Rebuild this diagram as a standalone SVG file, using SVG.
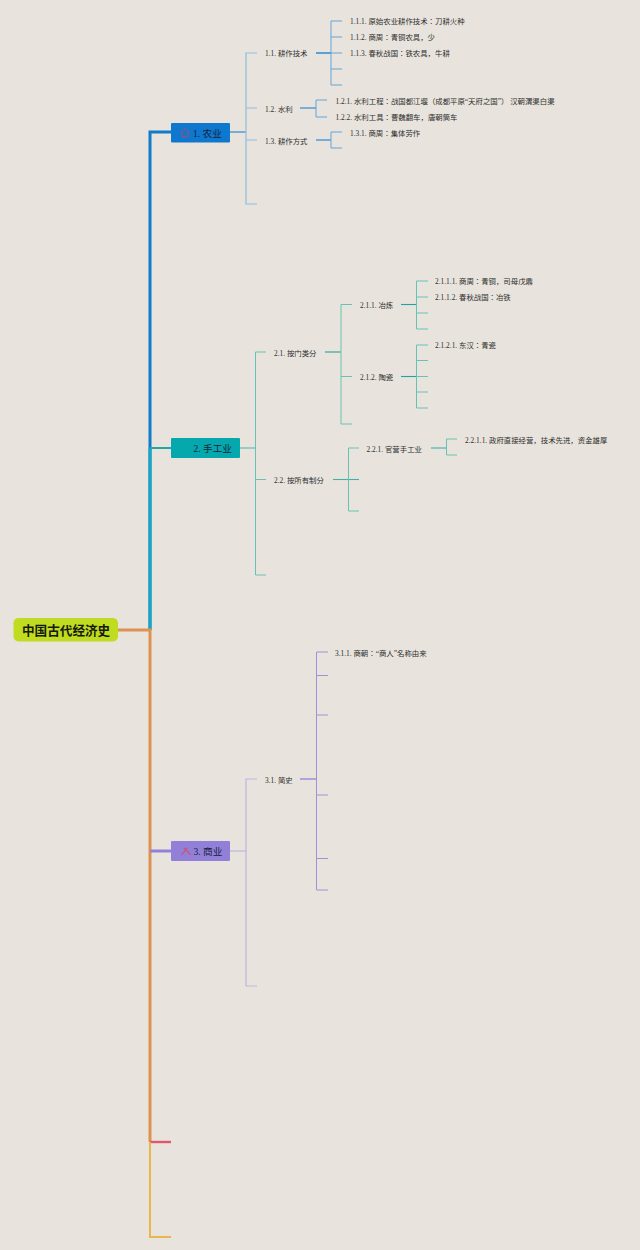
<svg xmlns="http://www.w3.org/2000/svg" width="640" height="1250" viewBox="0 0 640 1250">
<style>
text{font-family:"Liberation Serif","Noto Sans CJK JP",serif;fill:#2e2e2e}
.t{font-size:7.4px}
.m{font-size:7.4px}
.h{font-size:9.6px;fill:#14233a}
.r{font-family:"Noto Sans CJK SC","Noto Sans CJK JP",sans-serif;font-size:12.6px;font-weight:700;fill:#15190a}
path{fill:none}
.bl{stroke:#8dbddd;stroke-width:1.2}
.bd{stroke:#62a5d8;stroke-width:1}
.bc{stroke:#2f8acf;stroke-width:1.2}
.gl{stroke:#66c2b5;stroke-width:1}
.gd{stroke:#1fa69c;stroke-width:1.1}
.pl{stroke:#bdb5e0;stroke-width:1.2}
.pd{stroke:#9f92da;stroke-width:1}
.pc{stroke:#8a7ad6;stroke-width:1.2}
</style>
<rect width="640" height="1250" fill="#e8e4dd"/>
<g id="connectors">
<!-- trunk -->
<path d="M150 630V132H171" stroke="#0e7bcb" stroke-width="3"/>
<path d="M150 630V448" stroke="#17a6c2" stroke-width="3"/>
<path d="M150 448H171" stroke="#25a89f" stroke-width="2"/>
<path d="M118 630H150V1142" stroke="#de9150" stroke-width="3"/>
<path d="M150 851H171" stroke="#9280d8" stroke-width="3"/>
<path d="M150 1142H171" stroke="#e0566c" stroke-width="2.400"/>
<path d="M150 1142V1237H171" stroke="#e8b84c" stroke-width="2"/>
<!-- branch 1 -->
<path d="M230 132H246" stroke="#2f8acf" stroke-width="1.200"/>
<path class="bl" d="M257 53H246V204H257M246 108H257M246 140H257"/>
<path d="M316 53H331" stroke="#2f8acf" stroke-width="1.500"/>
<path class="bd" d="M342 21H331V85H342M331 37H342M331 53H342M331 69H342"/>
<path class="bc" d="M300 108H316"/>
<path class="bd" d="M327 100H316V117H327"/>
<path class="bc" d="M316 140H331"/>
<path class="bd" d="M342 132H331V148H342"/>
<!-- branch 2 -->
<path d="M240 448H255" stroke="#66c2b5" stroke-width="1.300"/>
<path class="gl" d="M266 352H255.500V575H266M255.500 479.500H266"/>
<path class="gd" d="M325 352H341"/>
<path class="gl" d="M352 304.500H341V424H352M341 376.500H352"/>
<path class="gd" d="M401 304.500H416.500"/>
<path class="gl" d="M428 281H416.500V329H428M416.500 297H428M416.500 313H428"/>
<path class="gd" d="M401 376.500H416.500"/>
<path class="gl" d="M428 345H416.500V408H428M416.500 360.500H428M416.500 376.500H428M416.500 392H428"/>
<path d="M333 479.500H359" stroke="#3fb3a6" stroke-width="1.100"/>
<path class="gl" d="M359 448H348.500V511H359"/>
<path d="M431 448H446.500" stroke="#66c2b5" stroke-width="1.500"/>
<path class="gl" d="M457 439H446.500V455H457"/>
<!-- branch 3 -->
<path d="M230 851H246" stroke="#bdb5e0" stroke-width="1.200"/>
<path class="pl" d="M257 779H246V986H257"/>
<path class="pc" d="M300 779H316.500"/>
<path class="pd" d="M328 652H316.500V890H328M316.500 675.500H328M316.500 715H328M316.500 795H328M316.500 858.500H328"/>
</g>
<g id="root">
<rect x="13.500" y="618" width="104.500" height="23.500" rx="5" fill="#bfdc20"/>
<text class="r" x="22" y="634.500">中国古代经济史</text>
</g>
<g id="n1">
<rect x="171" y="123" width="59" height="19.500" rx="1" fill="#0e78cf"/>
<path d="M180.500 132.500L185 128.500L189.500 132.500M182 132V137H188V132" stroke="#b0496e" stroke-width="1"/>
<text class="h" x="193" y="136.500">1. 农业</text>
</g>
<g id="n1-1"><text class="m" x="265" y="56">1.1. 耕作技术</text></g>
<g id="n1-1-1"><text class="t" x="350" y="24">1.1.1. 原始农业耕作技术：刀耕火种</text></g>
<g id="n1-1-2"><text class="t" x="350" y="40">1.1.2. 商周：青铜农具，少</text></g>
<g id="n1-1-3"><text class="t" x="350" y="56">1.1.3. 春秋战国：铁农具，牛耕</text></g>
<g id="n1-2"><text class="m" x="265" y="111.500">1.2. 水利</text></g>
<g id="n1-2-1"><text class="t" x="335.500" y="104">1.2.1. 水利工程：战国都江堰（成都平原“天府之国”） 汉朝渭渠白渠</text></g>
<g id="n1-2-2"><text class="t" x="335.500" y="120">1.2.2. 水利工具：曹魏翻车，唐朝筒车</text></g>
<g id="n1-3"><text class="m" x="265" y="143.500">1.3. 耕作方式</text></g>
<g id="n1-3-1"><text class="t" x="350" y="135.500">1.3.1. 商周：集体劳作</text></g>
<g id="n2">
<rect x="171" y="438" width="69" height="20" rx="1" fill="#04a8ad"/>
<text class="h" x="193.500" y="452">2. 手工业</text>
</g>
<g id="n2-1"><text class="m" x="274" y="356">2.1. 按门类分</text></g>
<g id="n2-1-1"><text class="t" x="360" y="308">2.1.1. 冶炼</text></g>
<g id="n2-1-1-1"><text class="t" x="435" y="284">2.1.1.1. 商周：青铜，司母戊鼎</text></g>
<g id="n2-1-1-2"><text class="t" x="435" y="300">2.1.1.2. 春秋战国：冶铁</text></g>
<g id="n2-1-2"><text class="t" x="360" y="380">2.1.2. 陶瓷</text></g>
<g id="n2-1-2-1"><text class="t" x="435" y="348">2.1.2.1. 东汉：青瓷</text></g>
<g id="n2-2"><text class="m" x="274" y="483">2.2. 按所有制分</text></g>
<g id="n2-2-1"><text class="t" x="366.500" y="451.500">2.2.1. 官营手工业</text></g>
<g id="n2-2-1-1"><text class="t" x="465" y="443">2.2.1.1. 政府直接经营，技术先进，资金雄厚</text></g>
<g id="n3">
<rect x="171" y="841" width="59" height="20" rx="1" fill="#9280d8"/>
<path d="M181.500 855L187.500 847.500M184 848L190.500 854.500" stroke="#cc4f72" stroke-width="1.100"/>
<text class="h" x="193.500" y="855">3. 商业</text>
</g>
<g id="n3-1"><text class="m" x="265" y="783">3.1. 简史</text></g>
<g id="n3-1-1"><text class="t" x="335" y="655.500">3.1.1. 商朝：“商人”名称由来</text></g>
</svg>
